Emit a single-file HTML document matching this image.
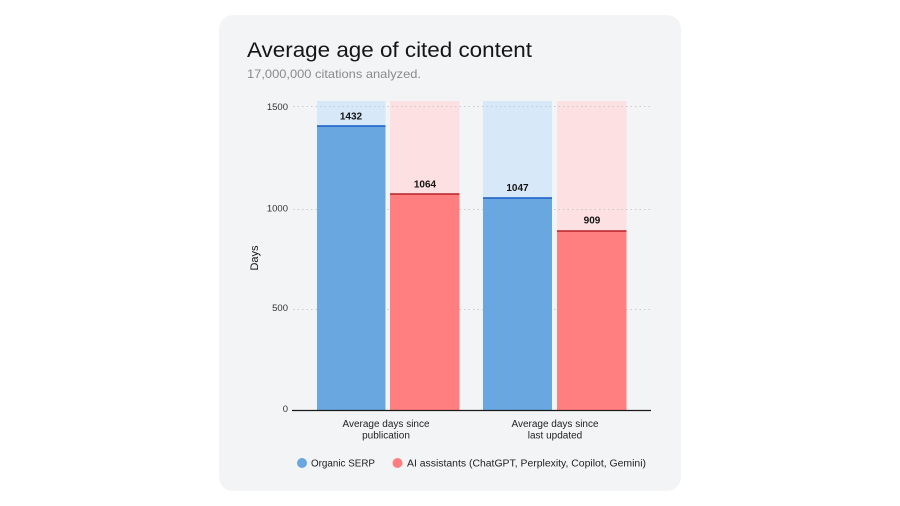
<!DOCTYPE html>
<html><head><meta charset="utf-8"><style>
html,body{margin:0;padding:0;background:#fff;}
svg{display:block;font-family:"Liberation Sans",sans-serif;}
</style></head><body>
<svg width="900" height="506" viewBox="0 0 900 506" xmlns="http://www.w3.org/2000/svg">
<rect x="0" y="0" width="900" height="506" fill="#ffffff"/>
<rect x="219" y="15" width="462" height="476" rx="14" ry="14" fill="#f3f4f6"/>
<text x="247" y="57" font-size="21" fill="#151515" textLength="285" lengthAdjust="spacingAndGlyphs">Average age of cited content</text>
<text x="247" y="78" font-size="12" fill="#8a8a8a" textLength="174" lengthAdjust="spacingAndGlyphs">17,000,000 citations analyzed.</text>

<!-- background bars -->
<rect x="317" y="101" width="68.5" height="309" fill="#d7e8f8"/>
<rect x="390" y="101" width="69.5" height="309" fill="#fde0e1"/>
<rect x="483" y="101" width="69" height="309" fill="#d7e8f8"/>
<rect x="557" y="101" width="69.5" height="309" fill="#fde0e1"/>

<!-- grid -->
<g stroke="#c9ccd1" stroke-width="1" stroke-dasharray="1.5,3">
<line x1="293" y1="106.5" x2="653" y2="106.5"/>
<line x1="293" y1="209.5" x2="653" y2="209.5"/>
<line x1="293" y1="309.5" x2="653" y2="309.5"/>
</g>

<!-- value bars -->
<rect x="317" y="126" width="68.5" height="284" fill="#69a7e0"/>
<rect x="390" y="194" width="69.5" height="216" fill="#ff7f80"/>
<rect x="483" y="198" width="69" height="212" fill="#69a7e0"/>
<rect x="557" y="231" width="69.5" height="179" fill="#ff7f80"/>
<g stroke-width="1.5">
<line x1="317" y1="126" x2="385.5" y2="126" stroke="#1a5bc4"/>
<line x1="390" y1="194" x2="459.5" y2="194" stroke="#b8222a"/>
<line x1="483" y1="198" x2="552" y2="198" stroke="#1a5bc4"/>
<line x1="557" y1="231" x2="626.5" y2="231" stroke="#b8222a"/>
</g>

<!-- value labels -->
<g font-size="10" font-weight="bold" fill="#151515" text-anchor="middle">
<text x="351" y="119.5">1432</text>
<text x="425" y="187.5">1064</text>
<text x="517.5" y="191">1047</text>
<text x="592" y="223.5">909</text>
</g>

<!-- baseline -->
<line x1="292" y1="410.5" x2="651" y2="410.5" stroke="#1a1a1a" stroke-width="1.2"/>

<!-- y tick labels -->
<g font-size="9.5" fill="#333" text-anchor="end">
<text x="288" y="110">1500</text>
<text x="288" y="211.5">1000</text>
<text x="288" y="311">500</text>
<text x="288" y="412">0</text>
</g>
<text transform="translate(258,258) rotate(-90)" font-size="11" fill="#151515" text-anchor="middle">Days</text>

<!-- category labels -->
<g font-size="10" fill="#222" text-anchor="middle">
<text x="386" y="427">Average days since</text>
<text x="386" y="438.5">publication</text>
<text x="555" y="427">Average days since</text>
<text x="555" y="438.5">last updated</text>
</g>

<!-- legend -->
<circle cx="302" cy="463" r="5" fill="#69a7e0"/>
<text x="311" y="466.5" font-size="10" fill="#222" textLength="64" lengthAdjust="spacingAndGlyphs">Organic SERP</text>
<circle cx="397.5" cy="463" r="5" fill="#ff7f80"/>
<text x="407" y="466.5" font-size="10" fill="#222" textLength="239" lengthAdjust="spacingAndGlyphs">AI assistants (ChatGPT, Perplexity, Copilot, Gemini)</text>
</svg>
</body></html>
